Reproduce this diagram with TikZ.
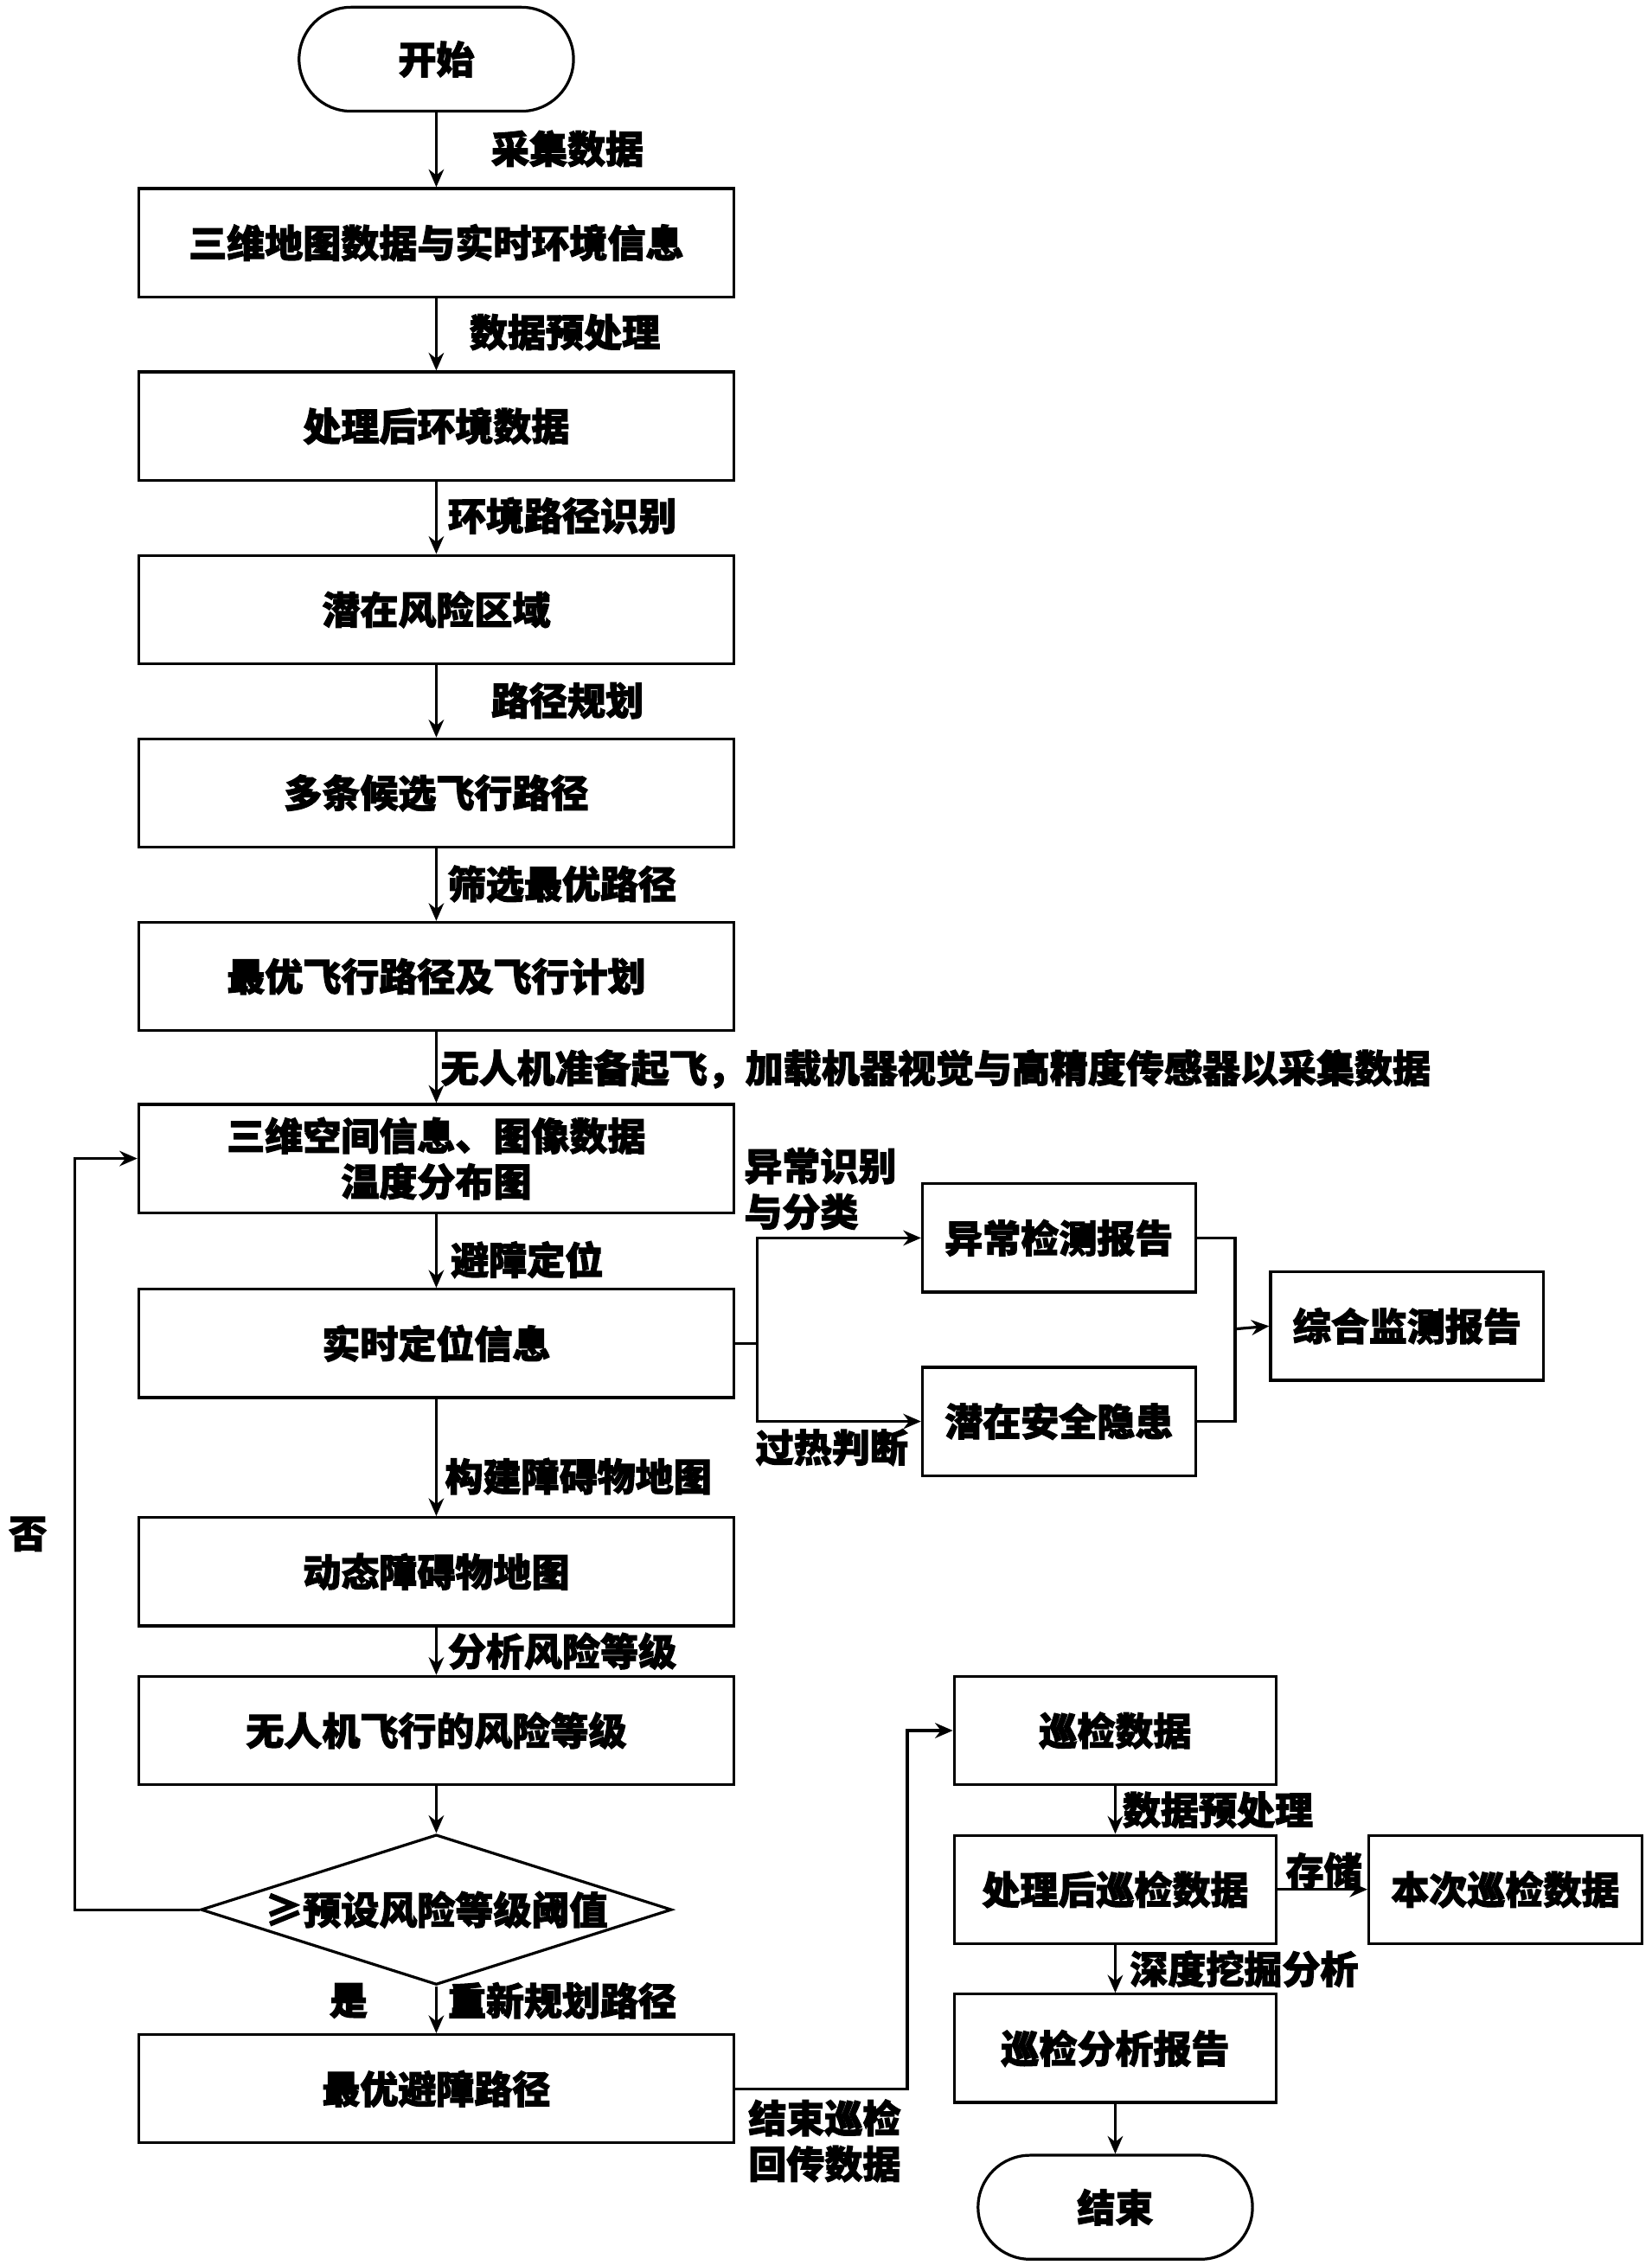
\documentclass[tikz,border=0pt]{standalone}
\usepackage{fontspec}
\setmainfont{Noto Sans CJK SC}[FakeBold=2.5]
\usetikzlibrary{arrows.meta,shapes.geometric}
\begin{document}
\begin{tikzpicture}[x=0.02cm,y=-0.02cm,
  box/.style={draw,line width=1.1pt,minimum width=8.24cm,minimum height=1.5cm,font=\fontsize{15}{18}\selectfont\bfseries,align=center,inner sep=0pt},
  sbox/.style={box,minimum width=3.78cm},
  pbox/.style={box,minimum width=4.46cm},
  term/.style={draw,line width=1.1pt,rounded corners=0.72cm,minimum width=3.8cm,minimum height=1.44cm,font=\fontsize{15}{18}\selectfont\bfseries},
  lab/.style={font=\fontsize{15}{18}\selectfont\bfseries,anchor=west,inner sep=1pt,align=left},
  ar/.style={line width=1.1pt,-{Stealth[length=7pt,width=6pt]}},
  ln/.style={line width=1.1pt}]
\useasboundingbox (0,0) rectangle (1143,1568);
\node[term] (s) at (302,41) {开始};
\node[box] (b1) at (302,168) {三维地图数据与实时环境信息};
\node[box] (b2) at (302,295) {处理后环境数据};
\node[box] (b3) at (302,422) {潜在风险区域};
\node[box] (b4) at (302,549) {多条候选飞行路径};
\node[box] (b5) at (302,676) {最优飞行路径及飞行计划};
\node[box] (b6) at (302,802) {三维空间信息、图像数据\\温度分布图};
\node[box] (b7) at (302,930) {实时定位信息};
\node[box] (b8) at (302,1088) {动态障碍物地图};
\node[box] (b9) at (302,1198) {无人机飞行的风险等级};
\node[diamond,draw,line width=1.1pt,minimum width=6.52cm,minimum height=2.08cm,inner sep=0pt,aspect=3.1,font=\fontsize{15}{18}\selectfont\bfseries] (d) at (302,1322) {≥预设风险等级阈值};
\node[box] (b10) at (302,1446) {最优避障路径};
\node[sbox] (r1) at (733,857) {异常检测报告};
\node[sbox] (r2) at (733,984) {潜在安全隐患};
\node[sbox] (r3) at (974,918) {综合监测报告};
\node[pbox] (p1) at (772,1198) {巡检数据};
\node[pbox] (p2) at (772,1308) {处理后巡检数据};
\node[sbox] (p3) at (1042,1308) {本次巡检数据};
\node[pbox] (p4) at (772,1418) {巡检分析报告};
\node[term] (e) at (772,1528) {结束};
\draw[ar] (s) -- (b1); \draw[ar] (b1) -- (b2); \draw[ar] (b2) -- (b3);
\draw[ar] (b3) -- (b4); \draw[ar] (b4) -- (b5); \draw[ar] (b5) -- (b6);
\draw[ar] (b6) -- (b7); \draw[ar] (b7) -- (b8); \draw[ar] (b8) -- (b9);
\draw[ar] (b9) -- (d); \draw[ar] (d) -- (b10);
\draw[ar] (d.west) -- (52,1322) -- (52,802) -- (b6.west);
\draw[ln] (b7.east) -- (524,930);
\draw[ar] (524,930) |- (r1.west);
\draw[ar] (524,930) |- (r2.west);
\draw[ln] (r1.east) -| (855,920);
\draw[ln] (r2.east) -| (855,920);
\draw[ar] (855,920) -- (r3.west);
\draw[ar] (b10.east) -- (628,1446) |- (p1.west);
\draw[ar] (p1) -- (p2); \draw[ar] (p2) -- (p3); \draw[ar] (p2) -- (p4); \draw[ar] (p4) -- (e);
\node[lab] at (338,103) {采集数据};
\node[lab] at (323,230) {数据预处理};
\node[lab] at (308,357) {环境路径识别};
\node[lab] at (338,485) {路径规划};
\node[lab] at (308,612) {筛选最优路径};
\node[lab] at (303,740) {无人机准备起飞，加载机器视觉与高精度传感器以采集数据};
\node[lab] at (310,872) {避障定位};
\node[lab] at (306,1022) {构建障碍物地图};
\node[lab] at (308,1143) {分析风险等级};
\node[lab] at (308,1385) {重新规划路径};
\node[lab] at (226,1385) {是};
\node[lab] at (4,1062) {否};
\node[lab] at (513,823) {异常识别\\与分类};
\node[lab] at (521,1002) {过热判断};
\node[lab] at (516,1482) {结束巡检\\回传数据};
\node[lab] at (775,1253) {数据预处理};
\node[lab] at (888,1295) {存储};
\node[lab] at (780,1363) {深度挖掘分析};
\end{tikzpicture}
\end{document}
